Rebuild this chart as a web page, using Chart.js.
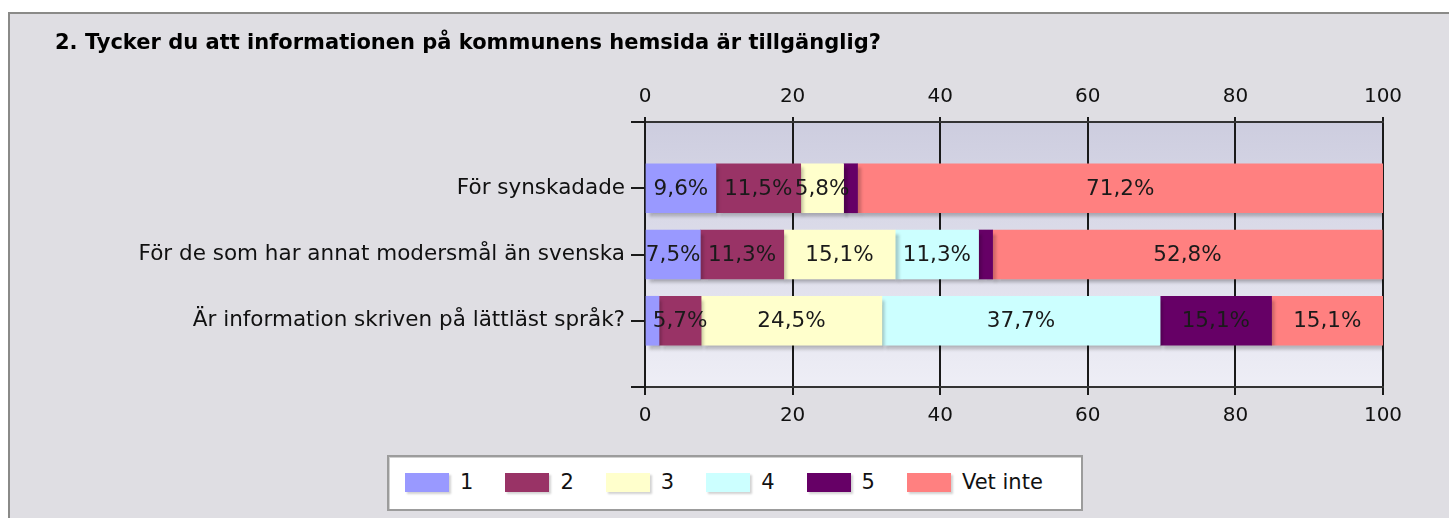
<!DOCTYPE html>
<html>
<head>
<meta charset="utf-8">
<script src="https://cdn.jsdelivr.net/npm/chart.js@4.4.0/dist/chart.umd.min.js"></script>
<style>
  body { margin: 0; background: #fff; width: 1449px; height: 518px; overflow: hidden; position: relative; font-family: "DejaVu Sans", Verdana, sans-serif; }
  #frame { position: absolute; left: 8px; top: 12px; width: 1460px; height: 520px; background: #dfdee3; border-left: 2px solid #8a8a88; border-top: 2px solid #8a8a88; }
  #chart { position: absolute; left: 0; top: 0; }
  #legend { position: absolute; left: 387px; top: 455px; width: 696px; height: 56px; box-sizing: border-box; background: #fff;
            border: 2px solid #9c9c9c; box-shadow: inset 1px 1px 0 #d0d0d0; display: flex; align-items: center; padding: 0 0 2px 16px; }
  .item { display: flex; align-items: center; width: 100.4px; flex: none; font-size: 21px; color: #111; white-space: nowrap; }
  .item:last-child { width: auto; }
  .sw { width: 44px; height: 19px; margin-right: 11px; flex: none; box-shadow: 2px 2px 2px rgba(0,0,0,0.18); }
</style>
</head>
<body>
<div id="frame"></div>
<canvas id="chart" width="1449" height="518"></canvas>
<div id="legend"></div>
<script>
// Data
const categories = ['För synskadade', 'För de som har annat modersmål än svenska', 'Är information skriven på lättläst språk?'];
const seriesNames = ['1', '2', '3', '4', '5', 'Vet inte'];
const seriesColors = ['#9999ff', '#993366', '#ffffcc', '#ccffff', '#660066', '#ff8080'];
const svar1 = [9.6, 7.5, 1.9];
const svar2 = [11.5, 11.3, 5.7];
const svar3 = [5.8, 15.1, 24.5];
const svar4 = [0, 11.3, 37.7];
const svar5 = [1.9, 1.9, 15.1];
const vetInte = [71.2, 52.8, 15.1];
const xTicks = [0, 20, 40, 60, 80, 100];

const allSeries = [svar1, svar2, svar3, svar4, svar5, vetInte];
const FONT = '"DejaVu Sans", Verdana, sans-serif';

// tom kategori före och efter så att staplarna hamnar på 1, 2, 3
const yLabels = [''].concat(categories, ['']);
const pad = arr => [null].concat(arr, [null]);

const datasets = allSeries.map((vals, i) => ({
    label: seriesNames[i],
    data: pad(vals),
    backgroundColor: seriesColors[i],
    borderWidth: 0,
    barThickness: 49,
    xAxisID: 'x'
}));

// Bakgrund i ritytan (gradient)
const plotBg = {
    id: 'plotBg',
    beforeDraw(chart) {
        const { ctx, chartArea: a } = chart;
        const g = ctx.createLinearGradient(0, a.top, 0, a.bottom);
        g.addColorStop(0, '#cdcddf');
        g.addColorStop(1, '#eeeef6');
        ctx.save();
        ctx.fillStyle = g;
        ctx.fillRect(a.left, a.top, a.right - a.left, a.bottom - a.top);
        ctx.restore();
    }
};

// Skugga under staplarna
const barShadow = {
    id: 'barShadow',
    beforeDatasetDraw(chart) {
        const ctx = chart.ctx;
        ctx.save();
        ctx.shadowColor = 'rgba(0,0,0,0.22)';
        ctx.shadowOffsetX = 3;
        ctx.shadowOffsetY = 4;
        ctx.shadowBlur = 3;
    },
    afterDatasetDraw(chart) {
        chart.ctx.restore();
    }
};

// Procentetiketter i staplarna
const barLabels = {
    id: 'barLabels',
    afterDatasetsDraw(chart) {
        const ctx = chart.ctx;
        ctx.save();
        ctx.font = '21.5px ' + FONT;
        ctx.fillStyle = '#1a1a1a';
        ctx.textAlign = 'center';
        ctx.textBaseline = 'middle';
        chart.data.datasets.forEach((ds, di) => {
            chart.getDatasetMeta(di).data.forEach((el, i) => {
                const v = ds.data[i];
                if (v == null || v < 3) return;
                const p = el.getCenterPoint();
                ctx.fillText(v.toFixed(1).replace('.', ',') + '%', p.x, p.y + 1);
            });
        });
        ctx.restore();
    }
};

new Chart(document.getElementById('chart'), {
    type: 'bar',
    data: { labels: yLabels, datasets: datasets },
    options: {
        indexAxis: 'y',
        responsive: false,
        animation: false,
        layout: { padding: { left: 55, top: 0, right: 66, bottom: 91 } },
        plugins: {
            legend: { display: false },
            tooltip: { enabled: false },
            title: {
                display: true,
                text: '2. Tycker du att informationen på kommunens hemsida är tillgänglig?',
                align: 'start',
                color: '#000',
                font: { family: FONT, size: 21, weight: 'bold' },
                padding: { top: 31, bottom: 0 }
            }
        },
        scales: {
            x: {
                position: 'bottom',
                stacked: true,
                min: 0, max: 100,
                afterBuildTicks: s => { s.ticks = xTicks.map(v => ({ value: v })); },
                afterFit: s => { s.height = 40; },
                grid: { color: '#1a1a1a', lineWidth: 2, tickLength: 8 },
                border: { color: '#333', width: 2 },
                ticks: { color: '#111', padding: 9, font: { family: FONT, size: 20 } }
            },
            x2: {
                position: 'top',
                min: 0, max: 100,
                afterBuildTicks: s => { s.ticks = xTicks.map(v => ({ value: v })); },
                afterFit: s => { s.height = 65.8; },
                grid: { drawOnChartArea: false, color: '#1a1a1a', lineWidth: 2, tickLength: 5 },
                border: { color: '#333', width: 2 },
                ticks: { color: '#111', padding: 8, font: { family: FONT, size: 20 } }
            },
            y: {
                stacked: true,
                offset: false,
                afterFit: s => { s.width = 590; },
                grid: { offset: false, drawOnChartArea: false, color: '#1a1a1a', lineWidth: 2, tickLength: 14 },
                border: { color: '#1a1a1a', width: 2 },
                ticks: { color: '#111', padding: 6, autoSkip: false, font: { family: FONT, size: 21.5 } }
            }
        }
    },
    plugins: [plotBg, barShadow, barLabels]
});

// Förklaring (legend) i en ruta under diagrammet
const legendEl = document.getElementById('legend');
seriesNames.forEach((name, i) => {
    const item = document.createElement('div');
    item.className = 'item';
    const sw = document.createElement('span');
    sw.className = 'sw';
    sw.style.background = seriesColors[i];
    item.appendChild(sw);
    item.appendChild(document.createTextNode(name));
    legendEl.appendChild(item);
});
</script>
</body>
</html>
